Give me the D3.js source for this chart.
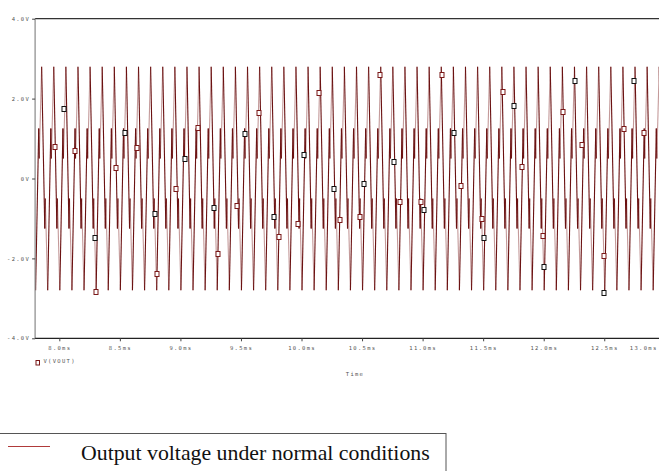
<!DOCTYPE html>
<html><head><meta charset="utf-8">
<script src="https://cdn.jsdelivr.net/npm/d3@7"></script>
<style>html,body{margin:0;padding:0;overflow:hidden;background:#fff}</style>
</head><body><svg id="c" width="659" height="471"></svg>
<script>
// ---- data ----
const xTicks = [8.0, 8.5, 9.0, 9.5, 10.0, 10.5, 11.0, 11.5, 12.0, 12.5, 13.0];
const xTickLabels = ["8.0ms","8.5ms","9.0ms","9.5ms","10.0ms","10.5ms","11.0ms","11.5ms","12.0ms","12.5ms","13.0ms"];
const yTicks = [4, 2, 0, -2, -4];
const yTickLabels = ["4.0V","2.0V","0V","-2.0V","-4.0V"];
// one cycle of V(VOUT) (ms offset from a trough, volts); the signal repeats every 0.1 ms
const cycleOffsets = [0, 0.026, 0.030, 0.050, 0.076, 0.080];
const cycleVolts   = [-2.8, 1.25, 0.5, 2.8, -1.25, -0.5];
const cycleDark    = [true, true, false, true, true, false];
const period = 0.1;
const firstTrough = 7.704;
const lastTime = 13.2;
// trace markers [time ms, volts]
const blackMarkers = [[8.041,1.74],[8.295,-1.50],[8.543,1.15],[8.790,-0.88],[9.036,0.50],[9.280,-0.74],
  [9.533,1.11],[9.770,-0.97],[10.018,0.58],[10.266,-0.26],[10.514,-0.13],[10.764,0.42],[11.014,-0.78],
  [11.262,1.15],[11.507,-1.49],[11.757,1.82],[12.005,-2.21],[12.256,2.45],[12.500,-2.86],[12.748,2.43]];
const redMarkers = [[7.964,0.80],[8.132,0.70],[8.303,-2.85],[8.466,0.27],[8.644,0.76],[8.809,-2.40],
  [8.966,-0.27],[9.145,1.26],[9.311,-1.88],[9.470,-0.69],[9.647,1.65],[9.814,-1.47],[9.974,-1.14],
  [10.147,2.13],[10.315,-1.05],[10.483,-0.97],[10.648,2.60],[10.813,-0.59],[10.989,-0.58],[11.160,2.60],
  [11.317,-0.18],[11.491,-1.02],[11.661,2.16],[11.818,0.30],[11.994,-1.45],[12.162,1.66],[12.319,0.83],
  [12.498,-1.93],[12.661,1.24],[12.826,1.13]];
const traceName = "V(VOUT)";
const xTitle = "Time";
const legendText = "Output voltage under normal conditions";

// ---- drawing ----
const svg = d3.select("#c");
const x = d3.scaleLinear().domain([7.8, 13.0]).range([35.1, 664.8]);
const y = d3.scaleLinear().domain([-4, 4]).range([338.3, 18.7]);
const darkRed = "#6b1212", lightRed = "#c49a9a";
const tickFont = "'DejaVu Sans Mono', monospace";

svg.append("defs").append("clipPath").attr("id","plot")
  .append("rect").attr("x", x(7.8)).attr("y", y(4)).attr("width", 640).attr("height", y(-4)-y(4));

// build segments
const pts = [];
for (let k = 0; ; k++) {
  const t0 = firstTrough + k*period;
  if (t0 > lastTime) break;
  cycleOffsets.forEach((o,i) => pts.push({t: t0+o, v: cycleVolts[i], dark: cycleDark[i]}));
}
const segs = [];
for (let i = 0; i < pts.length-1; i++) segs.push({a: pts[i], b: pts[i+1], dark: pts[i].dark});

const g = svg.append("g").attr("clip-path","url(#plot)");
g.selectAll("line.l").data(segs.filter(s=>!s.dark)).join("line").attr("class","l")
  .attr("x1",d=>x(d.a.t)).attr("y1",d=>y(d.a.v)).attr("x2",d=>x(d.b.t)).attr("y2",d=>y(d.b.v))
  .attr("stroke",lightRed).attr("stroke-width",1.1);
g.selectAll("line.d").data(segs.filter(s=>s.dark)).join("line").attr("class","d")
  .attr("x1",d=>x(d.a.t)).attr("y1",d=>y(d.a.v)).attr("x2",d=>x(d.b.t)).attr("y2",d=>y(d.b.v))
  .attr("stroke",darkRed).attr("stroke-width",1.1);

function markers(data, color) {
  g.selectAll(null).data(data).join("rect")
    .attr("x", d=>Math.round(x(d[0]))-2).attr("y", d=>Math.round(y(d[1]))-2.5)
    .attr("width",4).attr("height",5)
    .attr("fill","#fff").attr("stroke",color).attr("stroke-width",1);
}
markers(redMarkers, "#7a1818");
markers(blackMarkers, "#111");

// axes frame
svg.append("line").attr("x1",x(7.8)).attr("x2",659).attr("y1",y(4)).attr("y2",y(4)).attr("stroke","#333").attr("stroke-width",1.2);
svg.append("line").attr("x1",x(7.8)).attr("x2",x(7.8)).attr("y1",y(4)).attr("y2",y(-4)).attr("stroke","#888").attr("stroke-width",1.2);
svg.append("line").attr("x1",x(7.8)).attr("x2",659).attr("y1",y(-4)).attr("y2",y(-4)).attr("stroke","#222").attr("stroke-width",1.2);

// y axis
const yAxis = d3.axisLeft(y).tickValues(yTicks).tickSize(3).tickFormat((d,i)=>yTickLabels[i]);
const ya = svg.append("g").attr("transform",`translate(${x(7.8)},0)`).call(yAxis);
ya.select(".domain").remove();
ya.selectAll(".tick line").attr("stroke","#444");
ya.selectAll(".tick text").attr("x",-5).attr("dy","0.3em").attr("font-family",tickFont).attr("font-size",5.5)
  .attr("letter-spacing",1.3).attr("fill","#555");

// x axis
const xAxis = d3.axisBottom(x).tickValues(xTicks).tickSize(3).tickFormat((d,i)=>xTickLabels[i]);
const xa = svg.append("g").attr("transform",`translate(0,${y(-4)})`).call(xAxis);
xa.select(".domain").remove();
xa.selectAll(".tick line").attr("stroke","#444");
xa.selectAll(".tick text").attr("y",8).attr("font-family",tickFont).attr("font-size",5.5)
  .attr("letter-spacing",1.3).attr("fill","#555");
xa.selectAll(".tick").filter(d=>d===13.0).select("text").attr("text-anchor","end").attr("x",-x(13.0)+657);

svg.append("text").attr("x",355).attr("y",376).attr("text-anchor","middle").attr("font-family",tickFont)
  .attr("font-size",5.5).attr("letter-spacing",1.3).attr("fill","#555").text(xTitle);

// trace legend
svg.append("rect").attr("x",36).attr("y",360.5).attr("width",3.5).attr("height",4.5).attr("fill","#fff").attr("stroke","#7a1818");
svg.append("text").attr("x",43.5).attr("y",363).attr("font-family",tickFont).attr("font-size",5.5)
  .attr("letter-spacing",1.3).attr("fill","#555").text(traceName);

// bottom legend box
svg.append("rect").attr("x",-1).attr("y",433.5).attr("width",447).attr("height",60).attr("fill","none").attr("stroke","#555").attr("stroke-width",1);
svg.append("line").attr("x1",8).attr("x2",50).attr("y1",446.5).attr("y2",446.5).attr("stroke","#b03a3a").attr("stroke-width",1.2);
svg.append("text").attr("x",81).attr("y",460).attr("font-family","'Liberation Serif', 'Times New Roman', serif")
  .attr("font-size",21.8).attr("fill","#111").text(legendText);
</script></body></html>
